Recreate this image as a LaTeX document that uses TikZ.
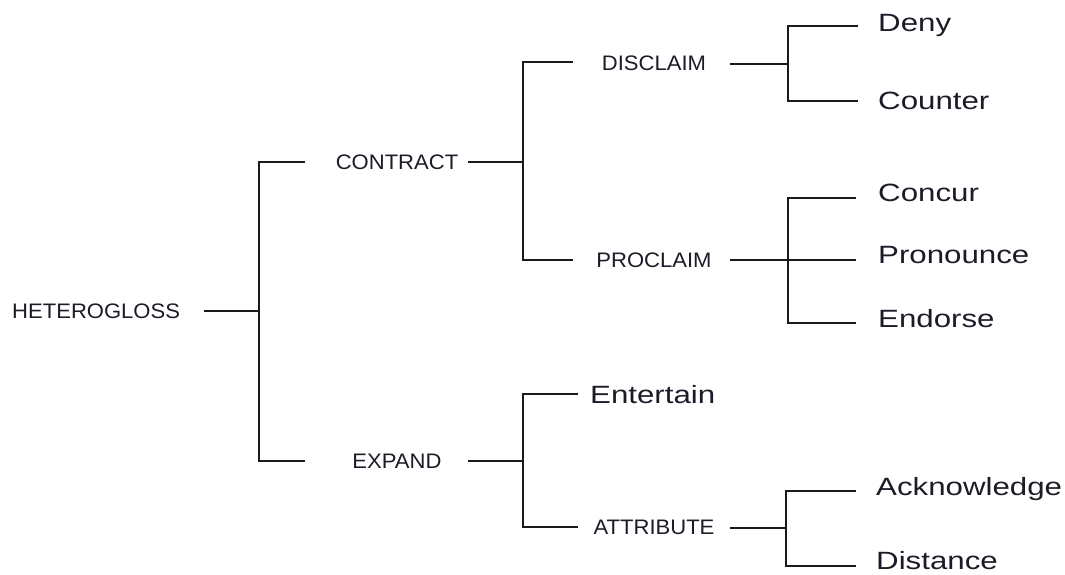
\documentclass[tikz,border=0pt]{standalone}
\usepackage{fontspec}
\setmainfont{Liberation Sans}
\newfontfamily\bigf[FakeStretch=1.25]{Liberation Sans}
\newfontfamily\smallf[FakeStretch=1.05]{Liberation Sans}
\definecolor{ink}{HTML}{1C1C28}
\definecolor{wire}{HTML}{1A1A1A}
\tikzset{
  sm/.style={font=\smallf\fontsize{21}{21}\selectfont, text=ink, inner sep=0pt, text height=15pt, text depth=0pt},
  bg/.style={font=\bigf\fontsize{25}{25}\selectfont, text=ink, inner sep=0pt, anchor=west, text height=17.9pt, text depth=0pt},
  br/.style={draw=wire, line width=2pt}
}
\begin{document}
\begin{tikzpicture}[x=1pt,y=-1pt]
\useasboundingbox (0,0) rectangle (1065,574);
% text nodes
\node[sm,anchor=west] (het) at (12,311) {HETEROGLOSS};
\node[sm] (con) at (397,162) {CONTRACT};
\node[sm] (exp) at (397,461) {EXPAND};
\node[sm] (dis) at (654,63) {DISCLAIM};
\node[sm] (pro) at (654,260) {PROCLAIM};
\node[bg] (ent) at (590,394.5) {Entertain};
\node[sm] (att) at (654,527) {ATTRIBUTE};
\node[bg] (deny) at (878,22.5) {Deny};
\node[bg] (cou) at (878,100.5) {Counter};
\node[bg] (concur) at (878,193) {Concur};
\node[bg] (pron) at (878,255) {Pronounce};
\node[bg] (endo) at (878,319) {Endorse};
\node[bg] (ack) at (876,487) {Acknowledge};
\node[bg] (dist) at (876,561) {Distance};
% line end coordinates
\coordinate (hetR) at (204,311);
\coordinate (conL) at (305,162); \coordinate (conR) at (468,162);
\coordinate (expL) at (305,461); \coordinate (expR) at (468,461);
\coordinate (disL) at (573,62);  \coordinate (disR) at (730,64);
\coordinate (proL) at (573,260); \coordinate (proR) at (730,260);
\coordinate (entL) at (578,394);
\coordinate (attL) at (578,527); \coordinate (attR) at (730,528);
\coordinate (denyL) at (858,26);  \coordinate (couL) at (858,101);
\coordinate (concurL) at (856,198); \coordinate (pronL) at (856,260); \coordinate (endoL) at (856,323);
\coordinate (ackL) at (856,491); \coordinate (distL) at (856,566);
% forks
\draw[br] (hetR) -- (259,311);
\draw[br] (conL) -- (259,162) -- (259,461) -- (expL);
\draw[br] (conR) -- (523,162);
\draw[br] (disL) -- (523,62) -- (523,260) -- (proL);
\draw[br] (expR) -- (523,461);
\draw[br] (entL) -- (523,394) -- (523,527) -- (attL);
\draw[br] (disR) -- (788,64);
\draw[br] (denyL) -- (788,26) -- (788,101) -- (couL);
\draw[br] (proR) -- (pronL);
\draw[br] (concurL) -- (788,198) -- (788,323) -- (endoL);
\draw[br] (attR) -- (786,528);
\draw[br] (ackL) -- (786,491) -- (786,566) -- (distL);
\end{tikzpicture}
\end{document}
